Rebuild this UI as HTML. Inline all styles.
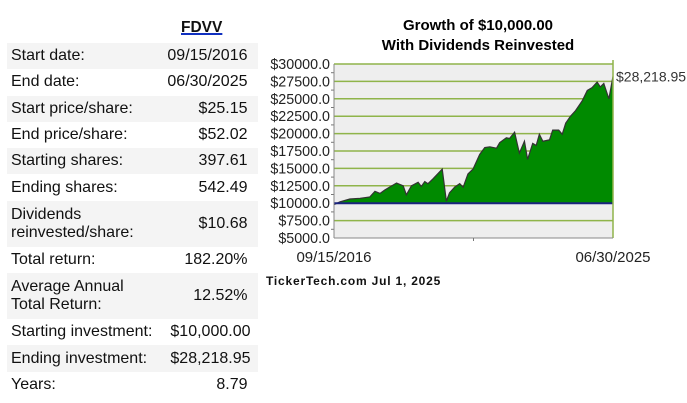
<!DOCTYPE html>
<html><head><meta charset="utf-8"><style>
body{margin:0;width:687px;height:403px;background:#fff;font-family:"Liberation Sans",Arial,sans-serif;position:relative;overflow:hidden}
#tbl{position:absolute;left:7px;top:43px;width:248px;border-collapse:collapse;font-size:16px;color:#111}
#tbl td{padding:0 11px 0 4px;height:26.3px;line-height:18px}
#tbl td.v{text-align:right}
#tbl tr.s{background:#f4f4f4}
#hd{position:absolute;left:181px;top:19px;font-weight:bold;font-size:15.5px;color:#111;text-decoration:underline;text-decoration-color:#1030c0;text-decoration-thickness:2px}
</style></head><body>
<div id="hd">FDVV</div>
<table id="tbl">
<tr class="s"><td>Start date:</td><td class="v">09/15/2016</td></tr>
<tr><td>End date:</td><td class="v">06/30/2025</td></tr>
<tr class="s"><td>Start price/share:</td><td class="v">$25.15</td></tr>
<tr><td>End price/share:</td><td class="v">$52.02</td></tr>
<tr class="s"><td>Starting shares:</td><td class="v">397.61</td></tr>
<tr><td>Ending shares:</td><td class="v">542.49</td></tr>
<tr class="s"><td style="height:46px">Dividends<br>reinvested/share:</td><td class="v">$10.68</td></tr>
<tr><td>Total return:</td><td class="v">182.20%</td></tr>
<tr class="s"><td style="height:46px">Average Annual<br>Total Return:</td><td class="v">12.52%</td></tr>
<tr><td style="white-space:nowrap">Starting investment:</td><td class="v" style="padding-right:8px">$10,000.00</td></tr>
<tr class="s"><td style="white-space:nowrap">Ending investment:</td><td class="v" style="padding-right:8px">$28,218.95</td></tr>
<tr><td>Years:</td><td class="v">8.79</td></tr>
</table>
<svg id="chart" width="687" height="403" style="position:absolute;left:0;top:0">
<text x="478" y="30" text-anchor="middle" font-weight="bold" font-size="15">Growth of $10,000.00</text>
<text x="478" y="50" text-anchor="middle" font-weight="bold" font-size="15">With Dividends Reinvested</text>
<g id="g"></g>
</svg>
<script>
const yTicks=[5000,7500,10000,12500,15000,17500,20000,22500,25000,27500,30000];
const xLabels=["09/15/2016","06/30/2025"];
const tYears=[0,0.19,0.5,0.82,1.13,1.29,1.45,1.6,1.97,2.18,2.28,2.44,2.65,2.75,2.86,2.96,3.12,3.41,3.54,3.64,3.8,3.96,4.07,4.22,4.38,4.59,4.75,4.91,5.12,5.22,5.43,5.53,5.69,5.84,6.0,6.1,6.26,6.37,6.47,6.58,6.79,6.89,7.08,7.19,7.3,7.45,7.61,7.82,7.98,8.13,8.29,8.39,8.5,8.66,8.79];
const values=[9800,10200,10600,10700,10900,11700,11400,11900,12900,12500,11200,12500,13000,12400,13100,12800,13500,14900,10300,11500,12300,12800,12300,14200,14900,17000,18000,18100,17900,18700,19400,19300,20200,17200,18900,16300,18600,18300,19900,18900,19100,20500,20500,19900,21500,22500,23300,24700,26200,26600,27400,26700,27200,25000,28218.95];
const baseline=10000,totalYears=8.79,endLabel="$28,218.95";
const X0=334,X1=613,Y0=238,Y1=64;
const sx=t=>X0+(t/totalYears)*(X1-X0);
const sy=v=>Y0-(v-5000)/25000*(Y0-Y1);
const NS="http://www.w3.org/2000/svg",g=document.getElementById('g');
function mk(tag,a){const e=document.createElementNS(NS,tag);for(const k in a)e.setAttribute(k,a[k]);g.appendChild(e);return e;}
let e=mk('rect',{x:X0,y:Y1,width:X1-X0,height:Y0-Y1,fill:'#eeeeee'});


yTicks.forEach((v,i)=>{
 if(v!==5000){const l=mk('line',{x1:X0,x2:X1,y1:sy(v),y2:sy(v),stroke:'#8fb44a','stroke-width':1.5});
 
 }
 const t=mk('text',{x:330,y:sy(v)+5,'text-anchor':'end','font-size':'14.3',fill:'#222'});t.textContent='$'+v.toFixed(1);
 
 
 if(i<yTicks.length-1){const m=mk('line',{x1:X0-3,x2:X0,y1:sy(v+1250),y2:sy(v+1250),stroke:'#777'});
 
 }
});
let d='M'+sx(tYears[0])+','+sy(baseline);
tYears.forEach((t,i)=>{d+=' L'+sx(t)+','+sy(values[i]);});
d+=' L'+sx(tYears[tYears.length-1])+','+sy(baseline)+' Z';
e=mk('path',{d:d,fill:'#008a00',stroke:'none'});


let ld='';tYears.forEach((t,i)=>{ld+=(i?' L':'M')+sx(t)+','+sy(values[i]);});
e=mk('path',{d:ld,fill:'none',stroke:'#333','stroke-width':1.2});


e=mk('line',{x1:X0,x2:X1,y1:sy(baseline),y2:sy(baseline),stroke:'#1a237e','stroke-width':2});


e=mk('line',{x1:X0,x2:X0,y1:Y1,y2:Y0,stroke:'#888'});


e=mk('line',{x1:X1,x2:X1,y1:Y1-4,y2:Y0,stroke:'#8fb44a','stroke-width':1.5});


e=mk('line',{x1:X0,x2:X1,y1:Y0,y2:Y0,stroke:'#888'});


e=mk('line',{x1:(X0+X1)/2,x2:(X0+X1)/2,y1:Y0,y2:Y0+3,stroke:'#777'});


e=mk('text',{x:X0,y:262,'text-anchor':'middle','font-size':'15',fill:'#222'});e.textContent=xLabels[0];


e=mk('text',{x:X1,y:262,'text-anchor':'middle','font-size':'15',fill:'#222'});e.textContent=xLabels[1];


e=mk('text',{x:616,y:sy(values[values.length-1])+5,'font-size':'14',fill:'#333'});e.textContent=endLabel;


e=mk('text',{x:266,y:285,'font-size':'12','font-weight':'bold',fill:'#111','letter-spacing':'0.8'});e.textContent='TickerTech.com  Jul 1, 2025';


</script>
</body></html>
